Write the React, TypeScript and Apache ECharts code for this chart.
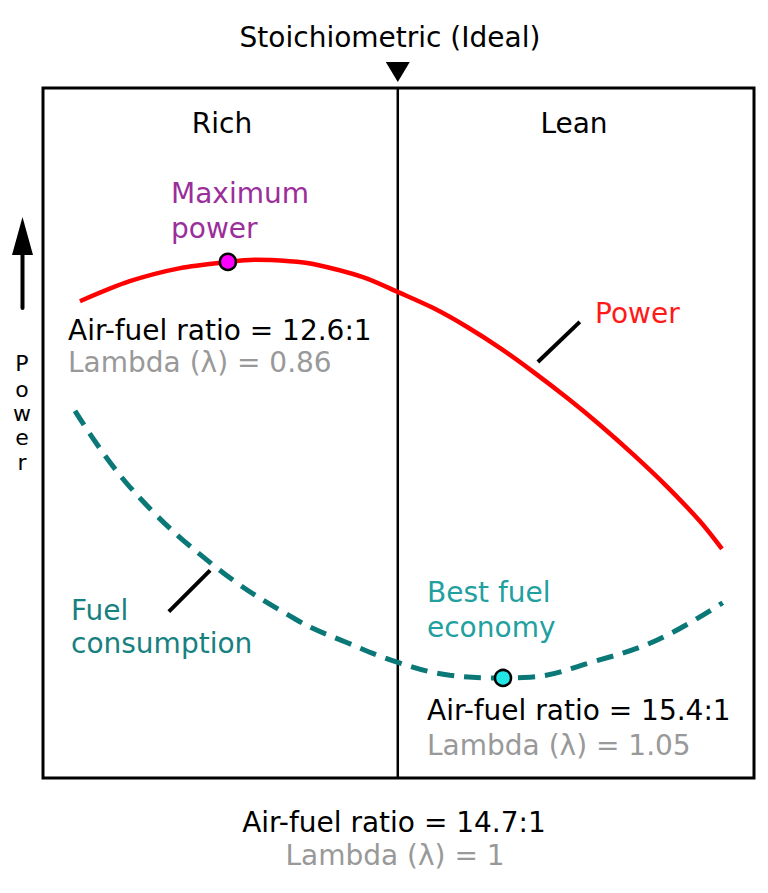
import React, { useEffect, useRef } from 'react';
import * as echarts from 'echarts';

// schematic units: x 0..100 (lean to the right), y 0..100 (up)
const powerCurve: [number, number][] = [
  [5.2, 69.1], [12.2, 72.0], [19.3, 73.9], [26.0, 74.8], [29.8, 75.1], [34.7, 74.9],
  [38.0, 74.5], [45.0, 72.6], [50.2, 70.3], [54.9, 68.1], [59.6, 65.4], [64.3, 62.3],
  [68.9, 58.9], [73.7, 55.1], [78.3, 51.2], [83.0, 46.9], [87.8, 42.2], [92.4, 37.2], [95.5, 33.2],
];
const fuelCurve: [number, number][] = [
  [4.5, 53.2], [12.2, 42.2], [23.9, 30.9], [35.7, 22.9], [42.8, 19.6], [49.8, 16.8],
  [57.2, 14.9], [64.7, 14.5], [68.5, 14.6], [76.9, 16.7], [86.4, 20.0], [95.6, 25.4],
];
const maxPowerPoint: [number, number] = [26.0, 74.8];
const bestEconomyPoint: [number, number] = [64.7, 14.5];
const stoichX = 49.9;
const powerLeader: [number, number][] = [[69.6, 60.3], [75.5, 66.1]];
const fuelLeader: [number, number][] = [[17.7, 24.1], [23.5, 30.1]];
const powerLetters = ['P', 'o', 'w', 'e', 'r'];

const FONT = '"DejaVu Sans", Verdana, sans-serif';
const GRAY = '#999999';

const txt = (text: string, x: number, y: number, fill: string, align: string = 'left', size = 28) => ({
  type: 'text',
  x,
  y,
  style: { text, fill, font: `${size}px ${FONT}`, textAlign: align, textVerticalAlign: 'middle' },
});

const App: React.FC = () => {
  const chartRef = useRef<HTMLDivElement>(null);

  useEffect(() => {
    document.body.style.margin = '0';
    if (!chartRef.current) return;
    const chart = echarts.init(chartRef.current, undefined, { renderer: 'svg' });

    const letterYs = [363, 389, 413, 437, 462];

    const option = {
      animation: false,
      grid: { left: 43, top: 88, width: 711, height: 690, show: true, borderColor: '#000', borderWidth: 3 },
      xAxis: { type: 'value', min: 0, max: 100, show: false },
      yAxis: { type: 'value', min: 0, max: 100, show: false },
      series: [
        {
          type: 'line',
          data: [[stoichX, 0], [stoichX, 100]],
          symbol: 'none',
          lineStyle: { color: '#000', width: 2.5 },
        },
        {
          type: 'line',
          data: powerCurve,
          smooth: 0.3,
          symbol: 'none',
          lineStyle: { color: '#ff0000', width: 4.5 },
        },
        {
          type: 'line',
          data: fuelCurve,
          smooth: 0.4,
          symbol: 'none',
          lineStyle: { color: '#0b7878', width: 5, type: [17, 10] },
        },
        {
          type: 'line',
          data: powerLeader,
          symbol: 'none',
          lineStyle: { color: '#000', width: 4 },
        },
        {
          type: 'line',
          data: fuelLeader,
          symbol: 'none',
          lineStyle: { color: '#000', width: 4 },
        },
        {
          type: 'scatter',
          data: [maxPowerPoint],
          symbolSize: 16,
          itemStyle: { color: '#ff00ff', borderColor: '#000', borderWidth: 2.5, opacity: 1 },
          z: 5,
        },
        {
          type: 'scatter',
          data: [bestEconomyPoint],
          symbolSize: 16,
          itemStyle: { color: '#22e6e6', borderColor: '#000', borderWidth: 2.5, opacity: 1 },
          z: 5,
        },
        {
          type: 'scatter',
          data: [[stoichX, 100]],
          clip: false,
          symbol: 'triangle',
          symbolRotate: 180,
          symbolSize: [24, 20],
          symbolOffset: [0, -16],
          itemStyle: { color: '#000', opacity: 1 },
        },
      ],
      graphic: [
        txt('Stoichiometric (Ideal)', 390, 37, '#000', 'center'),
        txt('Rich', 222, 123, '#000', 'center'),
        txt('Lean', 574, 123, '#000', 'center'),
        txt('Maximum', 171, 193, '#9a2e9a'),
        txt('power', 171, 228, '#9a2e9a'),
        txt('Air-fuel ratio = 12.6:1', 68, 330, '#000'),
        txt('Lambda (λ) = 0.86', 68, 362, GRAY),
        txt('Power', 595, 313, '#ff1a1a'),
        txt('Fuel', 71, 610, '#178080'),
        txt('consumption', 71, 643, '#178080'),
        txt('Best fuel', 427, 592, '#22a0a0'),
        txt('economy', 427, 627, '#22a0a0'),
        txt('Air-fuel ratio = 15.4:1', 427, 710, '#000'),
        txt('Lambda (λ) = 1.05', 427, 745, GRAY),
        txt('Air-fuel ratio = 14.7:1', 394, 822, '#000', 'center'),
        txt('Lambda (λ) = 1', 395, 855, GRAY, 'center'),
        ...powerLetters.map((ch, i) => txt(ch, 22, letterYs[i], '#000', 'center', 22)),
        {
          type: 'polygon',
          shape: { points: [[22.5, 217], [12, 255], [33, 255]] },
          style: { fill: '#000' },
        },
        {
          type: 'line',
          shape: { x1: 22.5, y1: 250, x2: 22.5, y2: 308 },
          style: { stroke: '#000', lineWidth: 4, lineCap: 'round' },
        },
      ],
    };
    chart.setOption(option);

    return () => {
      chart.dispose();
    };
  }, []);

  return <div ref={chartRef} style={{ width: 768, height: 893, background: '#fff' }} />;
};

export default App;
